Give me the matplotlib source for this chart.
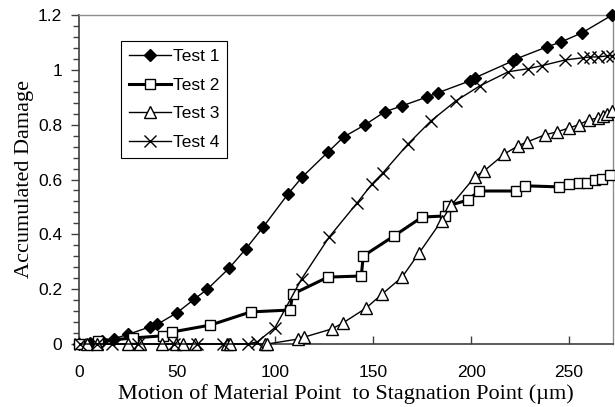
import matplotlib
matplotlib.use("Agg")
import matplotlib.pyplot as plt
from matplotlib.ticker import FixedLocator, MultipleLocator, FixedFormatter

# ---- data ----
t1_x = [0, 5.6, 11.6, 18, 25, 36, 40, 50, 58.7, 65.5, 76.5, 85, 94, 106.6, 114, 127, 135, 146, 156, 165,
        177.5, 183, 199.5, 202, 221.4, 223, 238.8, 246, 256.6, 272]
t1_y = [0, 0.004, 0.01, 0.02, 0.035, 0.062, 0.072, 0.114, 0.163, 0.2, 0.276, 0.346, 0.427, 0.547, 0.61,
        0.70, 0.755, 0.8, 0.847, 0.869, 0.901, 0.916, 0.96, 0.971, 1.033, 1.04, 1.084, 1.102, 1.135, 1.2]

t2_x = [0, 9.5, 27.6, 43, 47.6, 67, 87.6, 107.7, 109, 127, 144, 145, 160.7, 175, 186.7, 188, 198.5, 204,
        223, 227.6, 245, 250, 255, 259, 263, 267, 271]
t2_y = [0, 0.01, 0.022, 0.03, 0.044, 0.069, 0.117, 0.124, 0.182, 0.244, 0.248, 0.321, 0.394, 0.463, 0.467,
        0.504, 0.525, 0.558, 0.558, 0.577, 0.573, 0.584, 0.588, 0.588, 0.598, 0.602, 0.617]

t3_x = [4, 9, 25, 31, 42.5, 49.5, 53, 59, 75.5, 77, 95, 96, 111.7, 114.8, 129, 134.7, 146.4, 154.6, 164.8,
        173.5, 185, 190, 202, 206.6, 217, 224, 228.6, 237.7, 243.9, 250, 255, 260, 264.8, 267.3, 269.4, 272]
t3_y = [0, 0, 0, 0, 0, 0, 0, 0, 0, 0, 0, 0, 0.018, 0.025, 0.055, 0.077, 0.131, 0.182, 0.244, 0.332, 0.45,
        0.507, 0.61, 0.631, 0.693, 0.723, 0.737, 0.763, 0.774, 0.788, 0.8, 0.817, 0.825, 0.832, 0.839, 0.85]

t4_x = [0.5, 9, 17, 30, 48.5, 60, 73.5, 86, 91, 100, 113.5, 127.6, 141.8, 149.5, 155, 167.9, 179.6, 192.3,
        204.6, 219, 229, 236, 248, 257, 260.7, 265, 269.4, 272]
t4_y = [0, 0, 0, 0, 0, 0, 0, 0, 0.008, 0.06, 0.237, 0.39, 0.514, 0.584, 0.624, 0.73, 0.814, 0.887, 0.942,
        0.993, 1.004, 1.015, 1.036, 1.044, 1.047, 1.047, 1.051, 1.051]

x_ticks = [0, 50, 100, 150, 200, 250]
y_ticks = [0, 0.2, 0.4, 0.6, 0.8, 1.0, 1.2]
y_tick_labels = ["0", "0.2", "0.4", "0.6", "0.8", "1", "1.2"]
labels = ["Test 1", "Test 2", "Test 3", "Test 4"]

# ---- figure ----
fig = plt.figure(figsize=(6.15, 4.07), dpi=100)
ax = fig.add_axes([79/615, (407-344)/407, (613-79)/615, (344-15)/407])

ax.plot(t1_x, t1_y, color="black", lw=1.0, marker="D", ms=6.5, mfc="black", mec="black",
        label=labels[0], clip_on=False, zorder=3)
ax.plot(t2_x, t2_y, color="black", lw=2.2, marker="s", ms=7.5, mfc="white", mec="black", mew=1.0,
        label=labels[1], clip_on=False, zorder=3)
ax.plot(t3_x, t3_y, color="black", lw=1.0, marker="^", ms=8.5, mfc="white", mec="black", mew=1.0,
        label=labels[2], clip_on=False, zorder=3)
ax.plot(t4_x, t4_y, color="black", lw=1.0, marker="x", ms=8.5, mec="black", mew=1.0,
        label=labels[3], clip_on=False, zorder=3)

ax.set_xlim(0, 272.4)
ax.set_ylim(0, 1.2)

ax.xaxis.set_major_locator(FixedLocator(x_ticks))
ax.yaxis.set_major_locator(FixedLocator(y_ticks))
ax.yaxis.set_major_formatter(FixedFormatter(y_tick_labels))
ax.yaxis.set_minor_locator(MultipleLocator(0.04))

for lab in ax.get_xticklabels() + ax.get_yticklabels():
    lab.set_fontfamily("Liberation Sans")
    lab.set_fontsize(12.5)

ax.tick_params(axis="x", which="major", direction="in", length=6, width=1, color="#404040", pad=15)
ax.tick_params(axis="y", which="major", direction="out", length=6, width=1, color="#404040", pad=6)
ax.tick_params(axis="y", which="minor", direction="out", length=4, width=1, color="#404040")

for s in ["left", "bottom"]:
    ax.spines[s].set_color("#404040")
    ax.spines[s].set_linewidth(1.2)
for s in ["top", "right"]:
    ax.spines[s].set_color("#8c8c8c")
    ax.spines[s].set_linewidth(1.0)

ax.set_xlabel("Motion of Material Point  to Stagnation Point (\u00b5m)", family="Liberation Serif",
              fontsize=16, labelpad=3)
ax.set_ylabel("Accumulated Damage", family="Liberation Serif", fontsize=16, labelpad=3)

leg = ax.legend(loc="upper left", bbox_to_anchor=(0.0787, 0.921), borderaxespad=0, fancybox=False,
                framealpha=1, edgecolor="black", prop={"family": "Liberation Sans", "size": 12.5},
                handlelength=2.4, handletextpad=0.15, labelspacing=0.78, borderpad=0.45)
leg.get_frame().set_linewidth(0.8)

fig.savefig("out.png", dpi=100)
